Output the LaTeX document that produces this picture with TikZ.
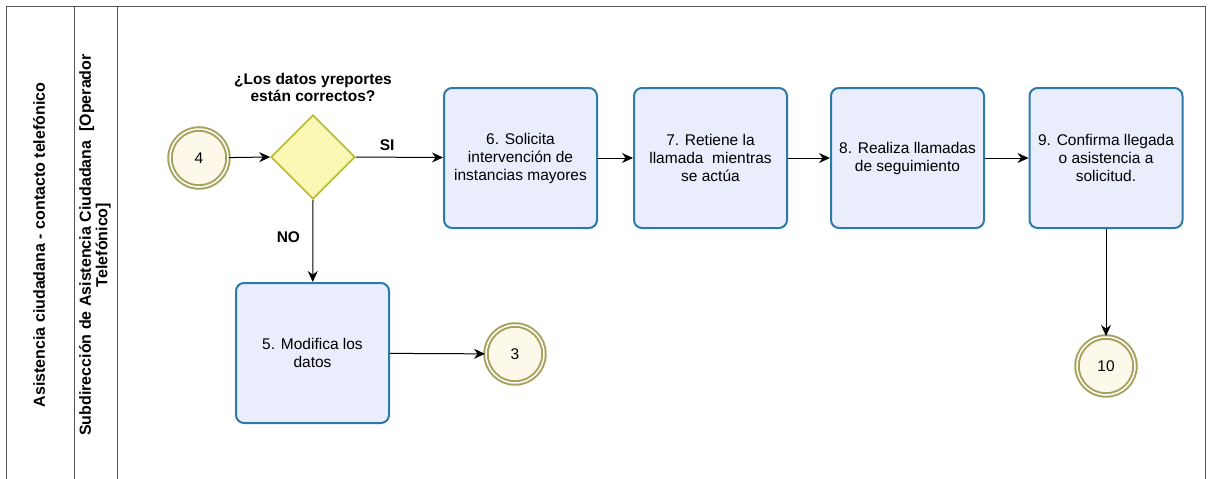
\documentclass[tikz,border=0pt]{standalone}
\usepackage{fontspec}
\setmainfont{Liberation Sans}
\usetikzlibrary{arrows.meta,shapes.geometric}

\definecolor{taskfill}{HTML}{E9EDFC}
\definecolor{taskline}{HTML}{2B7BA9}
\definecolor{eventfill}{HTML}{FDF9EA}
\definecolor{eventline}{HTML}{A7A25E}
\definecolor{gatefill}{HTML}{FAF7B4}
\definecolor{gateline}{HTML}{B7B82C}
\definecolor{poolline}{HTML}{555555}

\tikzset{
  task/.style={rectangle, rounded corners=8pt, draw=taskline, line width=2pt,
    fill=taskfill, minimum width=153pt, minimum height=140pt, align=center,
    font=\fontsize{15.5}{18}\selectfont, inner sep=1pt},
  evt/.style={circle, draw=eventline, line width=2pt, double=white,
    double distance=1.5pt, fill=eventfill, minimum size=58pt, inner sep=0pt,
    font=\fontsize{15.5}{18}\selectfont},
  gate/.style={diamond, draw=gateline, line width=1.6pt, fill=gatefill,
    minimum width=84pt, minimum height=84pt, inner sep=0pt},
  flow/.style={-{Stealth[length=11pt,width=10pt]}, line width=1pt, black},
  lbl/.style={font=\bfseries\fontsize{15.5}{17}\selectfont, align=center},
  lanelbl/.style={font=\bfseries\fontsize{16}{16.5}\selectfont, align=center,
    rotate=90},
  lane/.style={poolline, line width=1pt}
}

\begin{document}
\begin{tikzpicture}[x=1pt,y=-1pt]
  \useasboundingbox (0,0) rectangle (1211,479);

  % pool and lane frame
  \draw[lane] (6,479) -- (6,6) -- (1205,6) -- (1205,479);
  \draw[lane] (74,6) -- (74,479);
  \draw[lane] (117,6) -- (117,479);
  \node[lanelbl] (pool) at (39,245)
    {Asistencia ciudadana - contacto telefónico};
  \node[lanelbl] (lane) at (95,245)
    {Subdirección de Asistencia Ciudadana\ \ [Operador\\Telefónico]};

  % flow objects
  \node[evt] (e4) at (199,158) {4};
  \node[gate] (g) at (313,157) {};
  \node[lbl] (q) at (313,87) {¿Los datos yreportes\\están correctos?};
  \node[task] (t6) at (520.5,158) {6. Solicita\\intervención de\\instancias mayores};
  \node[task] (t7) at (710.5,158) {7. Retiene la\\llamada\ \ mientras\\se actúa};
  \node[task] (t8) at (907.5,158) {8. Realiza llamadas\\de seguimiento};
  \node[task] (t9) at (1106,158) {9. Confirma llegada\\o asistencia a\\solicitud.};
  \node[task] (t5) at (312.5,353) {5. Modifica los\\datos};
  \node[evt] (e3) at (515,354) {3};
  \node[evt] (e10) at (1106,366) {10};

  % sequence flows
  \draw[flow] (e4) -- (g.west);
  \draw[flow] (g.east) -- node[lbl, pos=0.36, above=3pt] {SI} (t6);
  \draw[flow] (g.south) -- node[lbl, pos=0.45, left=9pt] {NO} (t5);
  \draw[flow] (t5) -- (e3);
  \draw[flow] (t6) -- (t7);
  \draw[flow] (t7) -- (t8);
  \draw[flow] (t8) -- (t9);
  \draw[flow] (t9) -- (e10);
\end{tikzpicture}
\end{document}
